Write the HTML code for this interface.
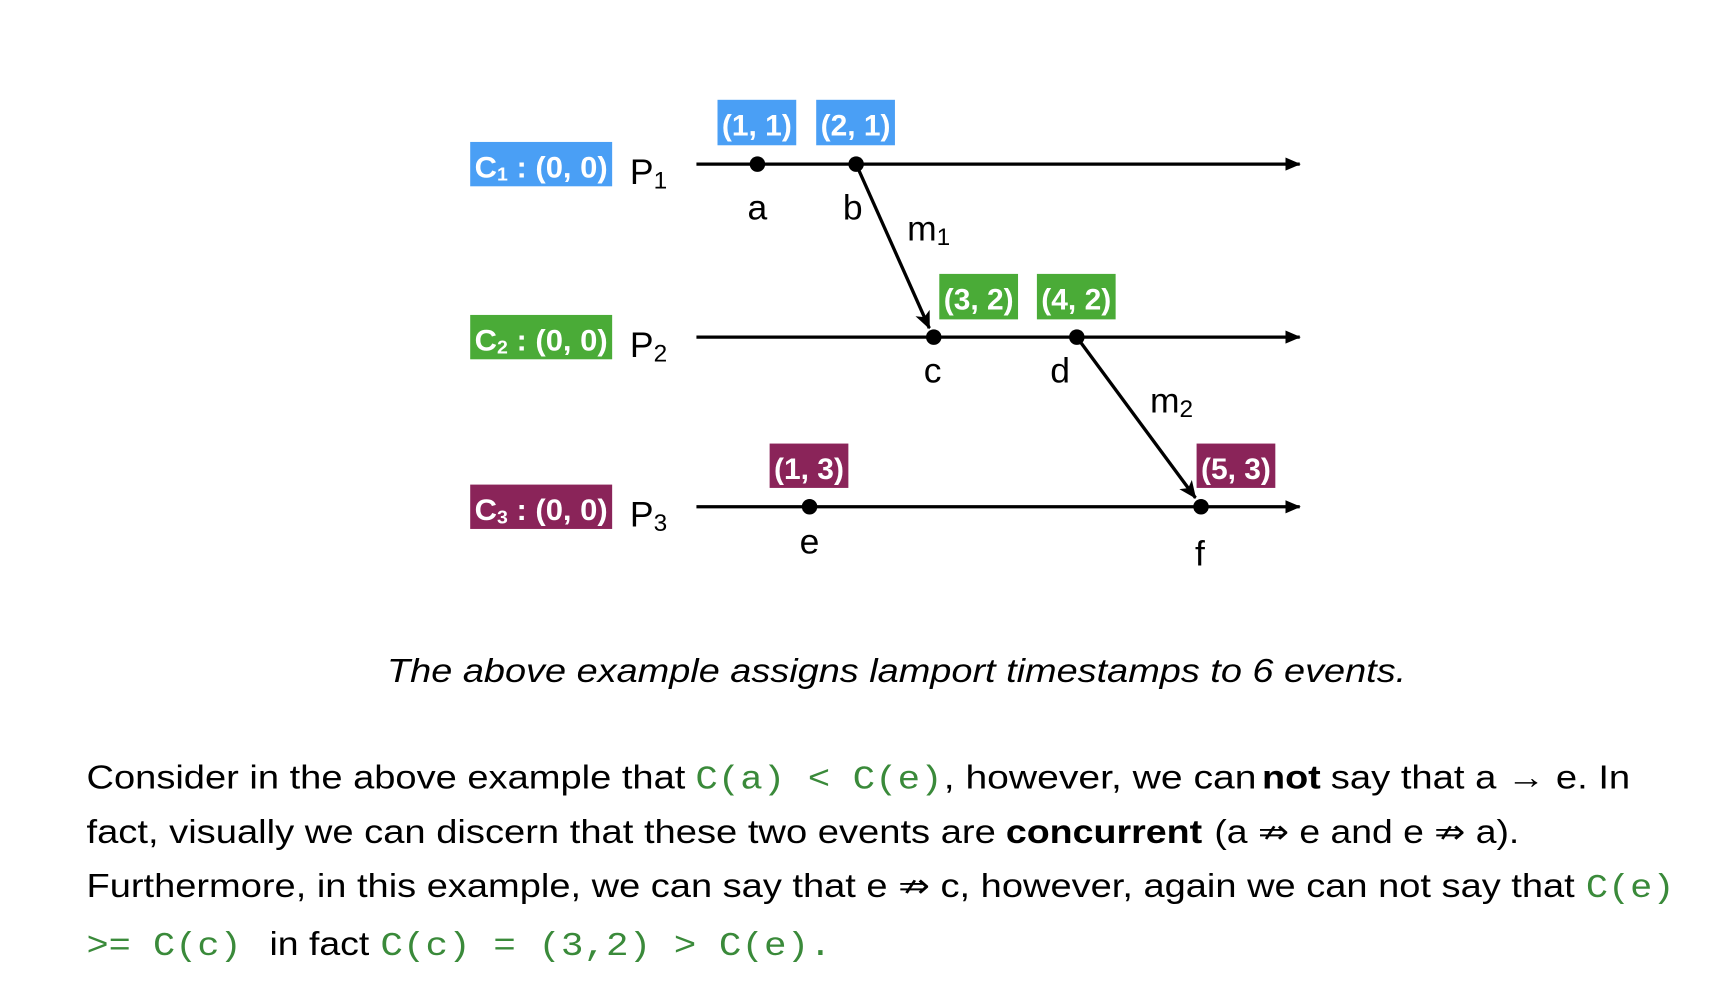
<!DOCTYPE html>
<html><head><meta charset="utf-8"><style>
html,body{margin:0;padding:0;background:#fff;width:1730px;height:1008px;overflow:hidden}
svg{display:block}
.s{font-family:"Liberation Sans","DejaVu Sans",sans-serif}
.m{font-family:"Liberation Mono","DejaVu Sans Mono",monospace;fill:#3a8a3a}
.lb{font-family:"Liberation Sans",sans-serif;font-weight:bold;fill:#fff;font-size:27px}
</style></head><body>
<svg width="1730" height="1008" viewBox="0 0 1560 909" preserveAspectRatio="none" xmlns="http://www.w3.org/2000/svg">
<defs><marker id="ah" markerWidth="14" markerHeight="12" refX="13" refY="6" orient="auto" markerUnits="userSpaceOnUse"><path d="M0,0 L14,6 L0,12 z" fill="#000"/></marker>
<marker id="ah2" markerWidth="16" markerHeight="14" refX="15" refY="7" orient="auto" markerUnits="userSpaceOnUse"><path d="M0,0 L16,7 L0,14 L4,7 z" fill="#000"/></marker></defs>
<g class="s">
<rect x="424" y="128" width="128" height="40" fill="#4a9ff5"/>
<text x="428" y="160" class="lb" textLength="120" lengthAdjust="spacingAndGlyphs">C<tspan font-size="17" dy="3">1</tspan><tspan dy="-3"> : (0, 0)</tspan></text>
<rect x="424" y="284" width="128" height="40" fill="#4aab37"/>
<text x="428" y="316" class="lb" textLength="120" lengthAdjust="spacingAndGlyphs">C<tspan font-size="17" dy="3">2</tspan><tspan dy="-3"> : (0, 0)</tspan></text>
<rect x="424" y="437" width="128" height="40" fill="#8a2459"/>
<text x="428" y="469" class="lb" textLength="120" lengthAdjust="spacingAndGlyphs">C<tspan font-size="17" dy="3">3</tspan><tspan dy="-3"> : (0, 0)</tspan></text>
<text x="568" y="166" font-size="32">P<tspan font-size="22" dy="4">1</tspan></text>
<text x="568" y="322" font-size="32">P<tspan font-size="22" dy="4">2</tspan></text>
<text x="568" y="475" font-size="32">P<tspan font-size="22" dy="4">3</tspan></text>
<g stroke="#000" stroke-width="3">
<line x1="628" y1="148" x2="1172" y2="148" marker-end="url(#ah)"/>
<line x1="628" y1="304" x2="1172" y2="304" marker-end="url(#ah)"/>
<line x1="628" y1="457" x2="1172" y2="457" marker-end="url(#ah)"/>
<line x1="772" y1="148" x2="838" y2="296" marker-end="url(#ah2)"/>
<line x1="971" y1="304" x2="1078" y2="449" marker-end="url(#ah2)"/>
</g>
<g fill="#000"><circle cx="683" cy="148" r="7"/><circle cx="772" cy="148" r="7"/><circle cx="842" cy="304" r="7"/><circle cx="971" cy="304" r="7"/><circle cx="730" cy="457" r="7"/><circle cx="1083" cy="457" r="7"/></g>
<rect x="647" y="90" width="71" height="41" fill="#4a9ff5"/><text x="682.5" y="122" class="lb" text-anchor="middle">(1, 1)</text>
<rect x="736" y="90" width="71" height="41" fill="#4a9ff5"/><text x="771.5" y="122" class="lb" text-anchor="middle">(2, 1)</text>
<rect x="847" y="247" width="71" height="41" fill="#4aab37"/><text x="882.5" y="279" class="lb" text-anchor="middle">(3, 2)</text>
<rect x="935" y="247" width="71" height="41" fill="#4aab37"/><text x="970.5" y="279" class="lb" text-anchor="middle">(4, 2)</text>
<rect x="694" y="400" width="71" height="40" fill="#8a2459"/><text x="729.5" y="432" class="lb" text-anchor="middle">(1, 3)</text>
<rect x="1079" y="400" width="71" height="40" fill="#8a2459"/><text x="1114.5" y="432" class="lb" text-anchor="middle">(5, 3)</text>
<g font-size="32" text-anchor="middle">
<text x="683" y="198">a</text><text x="769" y="198">b</text>
<text x="841" y="345">c</text><text x="956" y="345">d</text>
<text x="730" y="499">e</text><text x="1082" y="510">f</text>
</g>
<text x="818" y="217" font-size="32">m<tspan font-size="22" dy="4">1</tspan></text>
<text x="1037" y="372" font-size="32">m<tspan font-size="22" dy="4">2</tspan></text>
<text x="349" y="615" font-size="30" font-style="italic" textLength="919" lengthAdjust="spacingAndGlyphs">The above example assigns lamport timestamps to 6 events.</text>
<g font-size="30">
<text x="78" y="711" textLength="540" lengthAdjust="spacingAndGlyphs">Consider in the above example that</text>
<text x="627" y="711" class="m" textLength="223" lengthAdjust="spacingAndGlyphs">C(a) &lt; C(e)</text>
<text x="851" y="711" textLength="282" lengthAdjust="spacingAndGlyphs">, however, we can</text>
<text x="1138" y="711" font-weight="bold" textLength="53" lengthAdjust="spacingAndGlyphs">not</text>
<text x="1200" y="711" textLength="270" lengthAdjust="spacingAndGlyphs">say that a → e. In</text>
<text x="78" y="760" textLength="820" lengthAdjust="spacingAndGlyphs">fact, visually we can discern that these two events are</text>
<text x="907" y="760" font-weight="bold" textLength="177" lengthAdjust="spacingAndGlyphs">concurrent</text>
<text x="1095" y="760" textLength="275" lengthAdjust="spacingAndGlyphs">(a ⇏ e and e ⇏ a).</text>
<text x="78" y="809" textLength="1342" lengthAdjust="spacingAndGlyphs">Furthermore, in this example, we can say that e ⇏ c, however, again we can not say that</text>
<text x="1430" y="809" class="m" textLength="80" lengthAdjust="spacingAndGlyphs">C(e)</text>
<text x="78" y="861" class="m" textLength="140" lengthAdjust="spacingAndGlyphs">&gt;= C(c)</text>
<text x="243" y="861" textLength="90" lengthAdjust="spacingAndGlyphs">in fact</text>
<text x="343" y="861" class="m" textLength="407" lengthAdjust="spacingAndGlyphs">C(c) = (3,2) &gt; C(e).</text>
</g>
</g>
</svg>
</body></html>
